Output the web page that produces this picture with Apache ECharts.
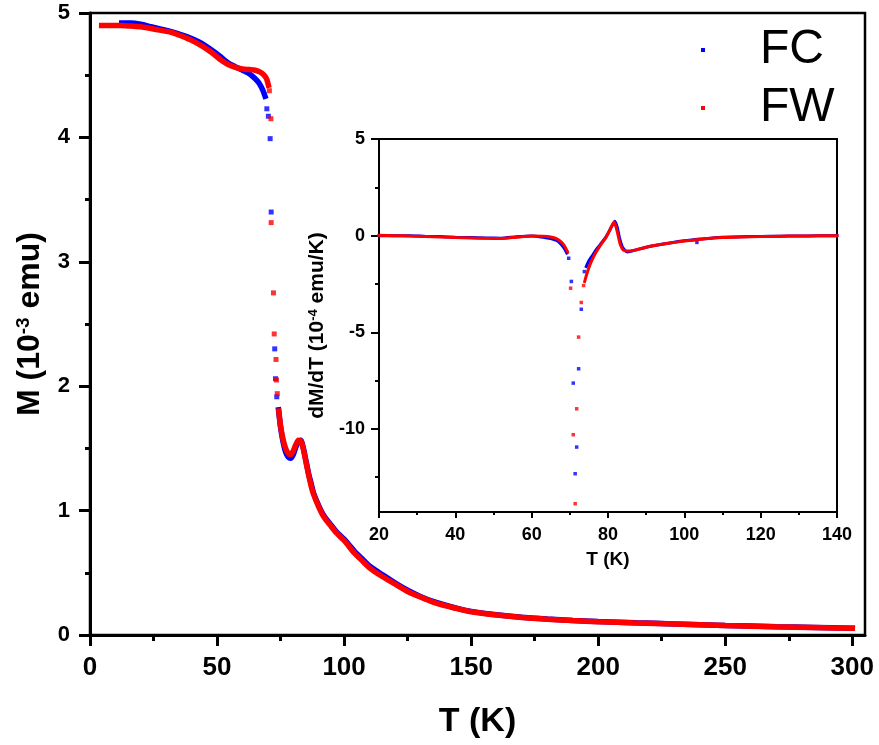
<!DOCTYPE html>
<html>
<head>
<meta charset="utf-8">
<script src="https://cdn.jsdelivr.net/npm/echarts@6/dist/echarts.min.js"></script>
<style>
html,body{margin:0;padding:0;background:#fff;}
#chart{width:879px;height:745px;}
</style>
</head>
<body>
<div id="chart"></div>
<script>
// ---------------- DATA ----------------
// Main panel: M (10^-3 emu) vs T (K)
// FC (blue)
const fcLowT  = [12.5, 16, 20, 24, 28, 32, 36, 40, 44, 48, 51, 54, 57, 60, 62, 64, 66, 67, 68, 68.9];
const fcLowM  = [4.92, 4.92, 4.91, 4.89, 4.87, 4.85, 4.825, 4.795, 4.755, 4.70, 4.655, 4.605, 4.57, 4.54, 4.52, 4.49, 4.45, 4.42, 4.38, 4.33];
const fcDotsT = [69.6, 70.2, 70.9, 71.3, 72.7, 73.0, 73.5];
const fcDotsM = [4.23, 4.17, 3.99, 3.40, 2.30, 2.06, 1.915];
const fcHighT = [74.2, 75, 76, 77, 78, 79, 80, 81, 82, 83, 84, 85, 86, 87, 88, 90, 92, 95, 97, 100, 104, 107, 110, 115, 120, 125, 130, 135, 140, 145, 150, 160, 170, 180, 190, 200, 215, 230, 250, 270, 285, 300];
const fcHighM = [1.81, 1.67, 1.55, 1.47, 1.43, 1.42, 1.45, 1.51, 1.555, 1.565, 1.50, 1.40, 1.30, 1.22, 1.14, 1.04, 0.96, 0.88, 0.83, 0.77, 0.675, 0.615, 0.555, 0.485, 0.42, 0.36, 0.31, 0.27, 0.24, 0.212, 0.19, 0.162, 0.142, 0.128, 0.117, 0.108, 0.098, 0.089, 0.077, 0.067, 0.061, 0.055];
// FW (red)
const fwLowT  = [4.6, 8, 12, 16, 20, 24, 28, 32, 36, 40, 44, 48, 51, 54, 57, 60, 63, 65, 67, 68.5, 69.5, 70.2];
const fwLowM  = [4.90, 4.90, 4.90, 4.895, 4.89, 4.875, 4.86, 4.845, 4.815, 4.78, 4.735, 4.68, 4.63, 4.59, 4.565, 4.55, 4.545, 4.54, 4.525, 4.50, 4.47, 4.42];
const fwDotsT = [70.6, 71.2, 71.3, 72.2, 72.5, 73.2, 73.4, 73.7];
const fwDotsM = [4.375, 4.15, 3.315, 2.75, 2.42, 2.215, 2.05, 1.94];
const fwHighT = [74.3, 75, 76, 77, 78, 79, 80, 81, 82, 83, 84, 85, 86, 87, 88, 90, 92, 95, 97, 100, 104, 107, 110, 115, 120, 125, 130, 135, 140, 145, 150, 160, 170, 180, 190, 200, 215, 230, 250, 270, 285, 300];
const fwHighM = [1.80, 1.68, 1.57, 1.50, 1.46, 1.45, 1.48, 1.53, 1.565, 1.56, 1.49, 1.39, 1.29, 1.20, 1.13, 1.03, 0.95, 0.87, 0.82, 0.76, 0.66, 0.60, 0.54, 0.47, 0.41, 0.35, 0.305, 0.265, 0.235, 0.21, 0.187, 0.16, 0.14, 0.127, 0.116, 0.107, 0.097, 0.088, 0.076, 0.066, 0.06, 0.054];

// Inset: dM/dT (10^-4 emu/K) vs T (K)
// FC (blue)
const fcInLowT  = [20, 24, 28, 32, 36, 40, 44, 48, 52, 56, 60, 63, 65, 66.5, 67.5, 68.5, 69.2];
const fcInLowV  = [0.0, -0.01, 0.0, -0.03, -0.05, -0.08, -0.1, -0.12, -0.13, -0.06, -0.02, -0.08, -0.15, -0.25, -0.4, -0.65, -0.9];
const fcInDotsT = [69.7, 70.4, 70.9, 71.4, 71.8, 72.3, 73.0, 73.8, 103.3];
const fcInDotsV = [-1.17, -2.37, -7.63, -12.32, -10.94, -6.89, -3.81, -1.86, -0.35];
const fcInHighT = [74.3, 75, 76, 77, 78, 79.6, 80.5, 81.8, 82.4, 83, 83.8, 85, 86.5, 88, 90, 93, 97, 100, 104, 107, 110, 115, 120, 125, 130, 135, 140];
const fcInHighV = [-1.6, -1.3, -1.0, -0.7, -0.45, -0.02, 0.3, 0.75, 0.45, -0.1, -0.6, -0.85, -0.78, -0.7, -0.6, -0.48, -0.35, -0.27, -0.18, -0.13, -0.09, -0.06, -0.04, -0.03, -0.02, -0.01, 0.0];
// FW (red)
const fwInLowT  = [20, 24, 28, 32, 36, 40, 44, 48, 52, 56, 60, 63, 65, 66.5, 67.5, 68.5, 69.4];
const fwInLowV  = [0.02, 0.0, -0.02, -0.04, -0.07, -0.1, -0.12, -0.14, -0.15, -0.08, -0.02, -0.03, -0.07, -0.15, -0.28, -0.5, -0.83];
const fwInDotsT = [70.2, 70.9, 71.4, 71.8, 72.3, 73.0, 73.6];
const fwInDotsV = [-2.72, -10.3, -13.87, -8.96, -5.25, -3.46, -2.58];
const fwInHighT = [73.9, 74.5, 75.5, 76.7, 78, 79.6, 80.5, 81.6, 82.1, 82.6, 83.2, 84, 85.4, 87, 89, 91, 95, 100, 105, 110, 115, 120, 125, 130, 135, 140];
const fwInHighV = [-2.37, -1.95, -1.4, -0.91, -0.5, -0.05, 0.3, 0.7, 0.45, 0.05, -0.45, -0.75, -0.8, -0.75, -0.65, -0.55, -0.42, -0.28, -0.17, -0.1, -0.07, -0.05, -0.03, -0.02, -0.01, 0.0];

// Tick values
const mainXTicks  = [0, 50, 100, 150, 200, 250, 300];
const mainXMinor  = [25, 75, 125, 175, 225, 275];
const mainYTicks  = [0, 1, 2, 3, 4, 5];
const mainYMinor  = [0.5, 1.5, 2.5, 3.5, 4.5];
const insetXTicks = [20, 40, 60, 80, 100, 120, 140];
const insetXMinor = [30, 50, 70, 90, 110, 130];
const insetYTicks = [-10, -5, 0, 5];
const insetYMinor = [-12.5, -7.5, -2.5, 2.5];

const seriesNames = ['FC', 'FW'];

// ---------------- CHART ----------------
const BLUE = '#0000ff', RED = '#ff0000';
const FONT = 'Liberation Sans, Arial, sans-serif';
const zip = (a, b) => a.map((v, i) => [v, b[i]]);

function majorAxis(o) {
  return Object.assign({
    type: 'value',
    axisLine: { show: true, onZero: false, lineStyle: { color: '#000', width: o.lw } },
    axisTick: { show: true, inside: false, length: o.tl, customValues: o.ticks, lineStyle: { color: '#000', width: o.lw } },
    axisLabel: { show: true, customValues: o.ticks, margin: o.margin, fontSize: o.fs, fontWeight: 'bold', color: '#000', fontFamily: FONT },
    splitLine: { show: false }
  }, o.extra);
}
function minorAxis(o) {
  return Object.assign({
    type: 'value',
    axisLine: { show: false, onZero: false },
    axisTick: { show: true, inside: false, length: o.tl, customValues: o.ticks, lineStyle: { color: '#000', width: o.lw } },
    axisLabel: { show: false },
    splitLine: { show: false }
  }, o.extra);
}

const chart = echarts.init(document.getElementById('chart'), null, { renderer: 'canvas' });

function lineSeries(name, color, t, v, xi, yi, w) {
  return { type: 'line', name: name, xAxisIndex: xi, yAxisIndex: yi, data: zip(t, v),
    symbol: 'none', showSymbol: false, smooth: 0.2, lineStyle: { color: color, width: w, cap: 'square' },
    itemStyle: { color: color }, silent: true, animation: false };
}
function dotSeries(name, color, t, v, xi, yi, s) {
  return { type: 'scatter', name: name, xAxisIndex: xi, yAxisIndex: yi, data: zip(t, v),
    symbol: 'rect', symbolSize: s, itemStyle: { color: color }, silent: true, animation: false };
}

const option = {
  animation: false,
  backgroundColor: '#fff',
  grid: [
    { left: 90, top: 13, width: 775, height: 622, show: true, borderColor: '#000', borderWidth: 2.5, backgroundColor: 'transparent' },
    { left: 379, top: 139, width: 458, height: 373, show: true, borderColor: '#000', borderWidth: 2, backgroundColor: 'transparent' }
  ],
  legend: {
    orient: 'vertical', left: 696, top: 16, itemWidth: 4, itemHeight: 4, itemGap: 0,
    selectedMode: false,
    data: [{ name: seriesNames[0], icon: 'rect' }, { name: seriesNames[1], icon: 'rect' }],
    textStyle: { fontSize: 48, fontFamily: FONT, color: '#000', lineHeight: 58, padding: [0, 0, 0, 50] }
  },
  xAxis: [
    majorAxis({ lw: 3, tl: 11, ticks: mainXTicks, margin: 20, fs: 26, extra: {
      gridIndex: 0, min: 0, max: 305, position: 'bottom',
      name: 'T (K)', nameLocation: 'middle', nameGap: 70,
      nameTextStyle: { fontSize: 34, fontWeight: 'bold', color: '#000', fontFamily: FONT } } }),
    minorAxis({ lw: 3, tl: 6, ticks: mainXMinor, extra: { gridIndex: 0, min: 0, max: 305, position: 'bottom' } }),
    majorAxis({ lw: 2, tl: 6, ticks: insetXTicks, margin: 14, fs: 18, extra: {
      gridIndex: 1, min: 20, max: 140, position: 'bottom',
      name: 'T (K)', nameLocation: 'middle', nameGap: 38,
      nameTextStyle: { fontSize: 19, fontWeight: 'bold', color: '#000', fontFamily: FONT } } }),
    minorAxis({ lw: 2, tl: 3, ticks: insetXMinor, extra: { gridIndex: 1, min: 20, max: 140, position: 'bottom' } })
  ],
  yAxis: [
    majorAxis({ lw: 3, tl: 11, ticks: mainYTicks, margin: 20, fs: 22, extra: {
      gridIndex: 0, min: 0, max: 5, position: 'left',
      name: '{t|M (10}{s|-3}{t| emu)}', nameLocation: 'middle', nameGap: 44,
      nameTextStyle: { fontSize: 32, fontWeight: 'bold', color: '#000', fontFamily: FONT,
        rich: {
          t: { fontSize: 32, fontWeight: 'bold', color: '#000', fontFamily: FONT },
          s: { fontSize: 19, fontWeight: 'bold', color: '#000', fontFamily: FONT, verticalAlign: 'top' }
        } } } }),
    minorAxis({ lw: 3, tl: 5, ticks: mainYMinor, extra: { gridIndex: 0, min: 0, max: 5, position: 'left' } }),
    majorAxis({ lw: 2, tl: 8, ticks: insetYTicks, margin: 14, fs: 18, extra: {
      gridIndex: 1, min: -14.3, max: 5, position: 'left',
      name: '{t|dM/dT (10}{s|-4}{t| emu/K)}', nameLocation: 'middle', nameGap: 42,
      nameTextStyle: { fontSize: 21, fontWeight: 'bold', color: '#000', fontFamily: FONT,
        rich: {
          t: { fontSize: 21, fontWeight: 'bold', color: '#000', fontFamily: FONT },
          s: { fontSize: 13, fontWeight: 'bold', color: '#000', fontFamily: FONT, verticalAlign: 'top' }
        } } } }),
    minorAxis({ lw: 2, tl: 4, ticks: insetYMinor, extra: { gridIndex: 1, min: -14.3, max: 5, position: 'left' } })
  ],
  series: [
    // main panel
    lineSeries('FC', BLUE, fcLowT, fcLowM, 0, 0, 5.5),
    lineSeries('FC', BLUE, fcHighT, fcHighM, 0, 0, 5.5),
    dotSeries('FC', BLUE, fcDotsT, fcDotsM, 0, 0, 5),
    lineSeries('FW', RED, fwLowT, fwLowM, 0, 0, 5.5),
    lineSeries('FW', RED, fwHighT, fwHighM, 0, 0, 5.5),
    dotSeries('FW', RED, fwDotsT, fwDotsM, 0, 0, 5),
    // inset
    lineSeries('FC', BLUE, fcInLowT, fcInLowV, 2, 2, 3),
    lineSeries('FC', BLUE, fcInHighT, fcInHighV, 2, 2, 3),
    dotSeries('FC', BLUE, fcInDotsT, fcInDotsV, 2, 2, 3.5),
    lineSeries('FW', RED, fwInLowT, fwInLowV, 2, 2, 3),
    lineSeries('FW', RED, fwInHighT, fwInHighV, 2, 2, 3),
    dotSeries('FW', RED, fwInDotsT, fwInDotsV, 2, 2, 3.5)
  ]
};
chart.setOption(option);
</script>
</body>
</html>
